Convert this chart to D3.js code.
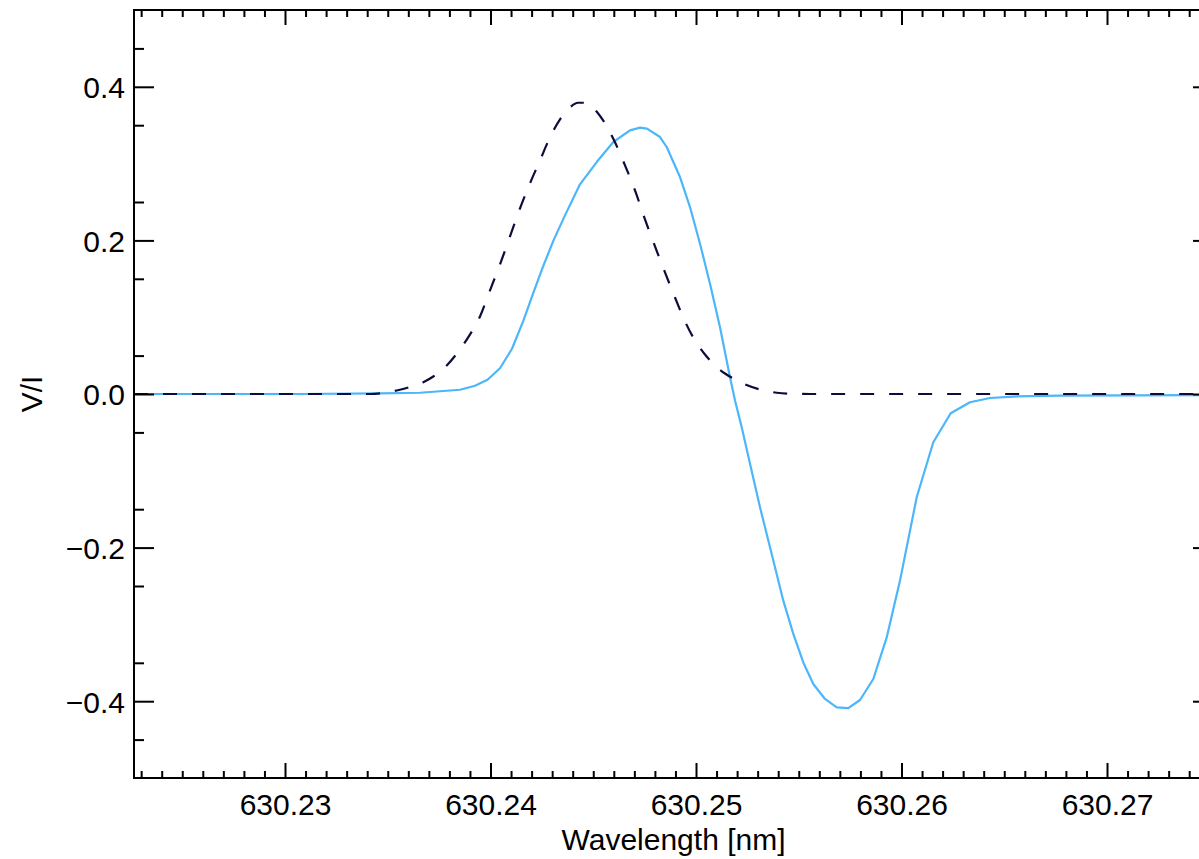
<!DOCTYPE html>
<html>
<head>
<meta charset="utf-8">
<script src="https://cdn.jsdelivr.net/npm/d3@7"></script>
<style>
  body { margin: 0; background: #fff; }
  svg { display: block; font-family: "Liberation Sans", Arial, Helvetica, sans-serif; }
  .tick line { stroke: #000; stroke-width: 2; }
  .tick text { font-size: 30px; fill: #000; }
</style>
</head>
<body>
<div class="canva"></div>
<script>
// solid (light blue) profile: wavelength [nm] and V/I
var solidWl = [630.222652, 630.23073, 630.234623, 630.236569, 630.238516, 630.239246, 630.239854,
  630.240462, 630.241046, 630.241606, 630.242092, 630.242579, 630.243066, 630.243625, 630.244355,
  630.245168, 630.245976, 630.246788, 630.247275, 630.247616, 630.248248, 630.248574, 630.249221,
  630.249708, 630.250195, 630.250681, 630.251168, 630.251655, 630.251898, 630.252224, 630.252628,
  630.253114, 630.253762, 630.254248, 630.254735, 630.255221, 630.255708, 630.256277, 630.256847,
  630.257411, 630.257981, 630.258628, 630.25928, 630.259927, 630.26074, 630.261547, 630.262394,
  630.263333, 630.264307, 630.265426, 630.267713, 630.275158];
var solidV = [0, 0, 0.0007, 0.0016, 0.0055, 0.0107, 0.0186,
  0.0335, 0.0589, 0.0958, 0.1322, 0.1674, 0.2, 0.2326, 0.273,
  0.302, 0.3281, 0.3433, 0.3468, 0.3455, 0.3346, 0.3216, 0.2825,
  0.2434, 0.1957, 0.1436, 0.087, 0.0219, -0.0085, -0.0433, -0.0909,
  -0.1475, -0.2169, -0.2691, -0.3124, -0.3495, -0.3776, -0.3971, -0.4081,
  -0.4089, -0.3984, -0.3711, -0.3169, -0.243, -0.1345, -0.0628, -0.025,
  -0.0107, -0.0052, -0.0033, -0.002, -0.0013];

// dashed (dark) profile
var dashWl = [630.222652, 630.234136, 630.234623, 630.235436, 630.236083, 630.23673, 630.237217,
  630.237869, 630.238355, 630.23892, 630.239489, 630.239976, 630.240462, 630.240949, 630.241436,
  630.241922, 630.242409, 630.242895, 630.243382, 630.243869, 630.244258, 630.244599, 630.244842,
  630.245182, 630.245572, 630.246058, 630.246545, 630.247032, 630.247518, 630.248005, 630.248491,
  630.248978, 630.249465, 630.249951, 630.250438, 630.250925, 630.251411, 630.251898, 630.252384,
  630.253114, 630.253927, 630.254574, 630.255547, 630.275158];
var dashV = [0, 0, 0.0007, 0.0046, 0.0091, 0.0154, 0.0228,
  0.0371, 0.0524, 0.074, 0.101, 0.1349, 0.1687, 0.2052, 0.2417,
  0.2743, 0.3042, 0.3342, 0.3576, 0.3733, 0.3792, 0.3792, 0.3765,
  0.3672, 0.3524, 0.3277, 0.2977, 0.2651, 0.2273, 0.1922, 0.1583,
  0.1257, 0.0945, 0.0697, 0.0515, 0.0371, 0.0267, 0.0189, 0.0124,
  0.0059, 0.0016, 0.0003, 0, 0];

var xMajor = [630.23, 630.24, 630.25, 630.26, 630.27];
var yMajor = [-0.4, -0.2, 0.0, 0.2, 0.4];
var xDomain = [630.222652, 630.275158];
var yDomain = [-0.5, 0.5];

const W = 1199, H = 859;
const pLeft = 134, pTop = 10, pRight = 1213, pBottom = 778;

const svg = d3.select(".canva").append("svg")
              .attr("width", W)
              .attr("height", H);

const x = d3.scaleLinear().domain(xDomain).range([pLeft, pRight]);
const y = d3.scaleLinear().domain(yDomain).range([pBottom, pTop]);

// minor ticks
var xMinor = d3.range(630.223, 630.2755, 0.001).filter(function(v) {
  return Math.abs(v * 100 - Math.round(v * 100)) > 1e-6;
});
var yMinor = d3.range(-0.45, 0.5, 0.1);

svg.append("clipPath").attr("id", "clip")
   .append("rect").attr("x", pLeft).attr("y", pTop)
   .attr("width", pRight - pLeft).attr("height", pBottom - pTop);

const plot = svg.append("g").attr("clip-path", "url(#clip)");

const line = d3.line()
  .x(function(d) { return x(d[0]); })
  .y(function(d) { return y(d[1]); });

plot.append("path")
    .datum(d3.zip(solidWl, solidV))
    .attr("fill", "none")
    .attr("stroke", "#4cb6fb")
    .attr("stroke-width", 2.2)
    .attr("stroke-linejoin", "round")
    .attr("d", line);

plot.append("path")
    .datum(d3.zip(dashWl, dashV))
    .attr("fill", "none")
    .attr("stroke", "#0c0c3e")
    .attr("stroke-width", 2.2)
    .attr("stroke-dasharray", "14,15")
    .attr("d", line.curve(d3.curveMonotoneX));

// axes
function noDomain(g) { g.select(".domain").remove(); }

svg.append("g").attr("transform", "translate(0," + pBottom + ")")
   .call(d3.axisBottom(x).tickValues(xMajor).tickSize(-15).tickPadding(16).tickFormat(d3.format(".2f")))
   .call(noDomain);
svg.append("g").attr("transform", "translate(0," + pBottom + ")")
   .call(d3.axisBottom(x).tickValues(xMinor).tickSize(-7).tickFormat(""))
   .call(noDomain);
svg.append("g").attr("transform", "translate(0," + pTop + ")")
   .call(d3.axisTop(x).tickValues(xMajor).tickSize(-15).tickFormat(""))
   .call(noDomain);
svg.append("g").attr("transform", "translate(0," + pTop + ")")
   .call(d3.axisTop(x).tickValues(xMinor).tickSize(-7).tickFormat(""))
   .call(noDomain);

svg.append("g").attr("transform", "translate(" + pLeft + ",0)")
   .call(d3.axisLeft(y).tickValues(yMajor).tickSize(-20).tickPadding(9).tickFormat(d3.format(".1f")))
   .call(noDomain)
   .selectAll("text").attr("dy", "0.36em");
svg.append("g").attr("transform", "translate(" + pLeft + ",0)")
   .call(d3.axisLeft(y).tickValues(yMinor).tickSize(-10).tickFormat(""))
   .call(noDomain);
svg.append("g").attr("transform", "translate(" + pRight + ",0)")
   .call(d3.axisRight(y).tickValues(yMajor).tickSize(-20).tickFormat(""))
   .call(noDomain);
svg.append("g").attr("transform", "translate(" + pRight + ",0)")
   .call(d3.axisRight(y).tickValues(yMinor).tickSize(-10).tickFormat(""))
   .call(noDomain);

svg.append("rect")
   .attr("x", pLeft).attr("y", pTop)
   .attr("width", pRight - pLeft).attr("height", pBottom - pTop)
   .attr("fill", "none").attr("stroke", "#000").attr("stroke-width", 2);

svg.append("text")
   .attr("x", (pLeft + pRight) / 2).attr("y", 850)
   .attr("text-anchor", "middle")
   .attr("font-size", 30)
   .text("Wavelength [nm]");

svg.append("text")
   .attr("transform", "translate(42," + (pTop + pBottom) / 2 + ") rotate(-90)")
   .attr("text-anchor", "middle")
   .attr("font-size", 30)
   .text("V/I");
</script>
</body>
</html>
